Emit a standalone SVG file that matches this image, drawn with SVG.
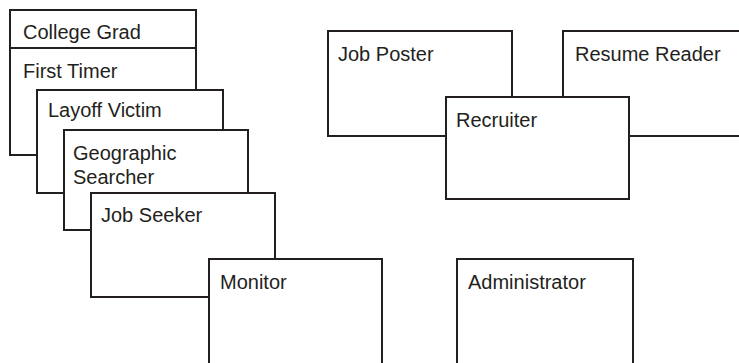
<svg xmlns="http://www.w3.org/2000/svg" width="739" height="363" viewBox="0 0 739 363">
<style>
.box{fill:#fff;stroke:#231f20;stroke-width:2}
.lbl{font-family:"Liberation Sans",Arial,sans-serif;font-size:20px;fill:#231f20}
</style>
<rect width="739" height="363" fill="#fff"/>
<g id="first-timer"><rect class="box" x="10" y="48" width="186" height="107"/><text class="lbl" x="23" y="78">First Timer</text></g>
<g id="college-grad"><rect class="box" x="10" y="10" width="186" height="38"/><text class="lbl" x="23" y="39">College Grad</text></g>
<g id="layoff-victim"><rect class="box" x="37" y="90" width="186" height="103"/><text class="lbl" x="48" y="117">Layoff Victim</text></g>
<g id="geographic-searcher"><rect class="box" x="64" y="130" width="184" height="100"/><text class="lbl" x="73" y="160">Geographic</text><text class="lbl" x="73" y="184">Searcher</text></g>
<g id="job-seeker"><rect class="box" x="91" y="193" width="184" height="104"/><text class="lbl" x="101" y="222">Job Seeker</text></g>
<g id="monitor"><rect class="box" x="209" y="259" width="173" height="115"/><text class="lbl" x="220" y="289">Monitor</text></g>
<g id="administrator"><rect class="box" x="457" y="259" width="176" height="115"/><text class="lbl" x="468" y="289">Administrator</text></g>
<g id="job-poster"><rect class="box" x="328" y="31" width="184" height="105"/><text class="lbl" x="338" y="61">Job Poster</text></g>
<g id="resume-reader"><rect class="box" x="563" y="31" width="190" height="105"/><text class="lbl" x="575" y="61">Resume Reader</text></g>
<g id="recruiter"><rect class="box" x="446" y="97" width="183" height="102"/><text class="lbl" x="456" y="127">Recruiter</text></g>
<g id="connectors"/>
</svg>
